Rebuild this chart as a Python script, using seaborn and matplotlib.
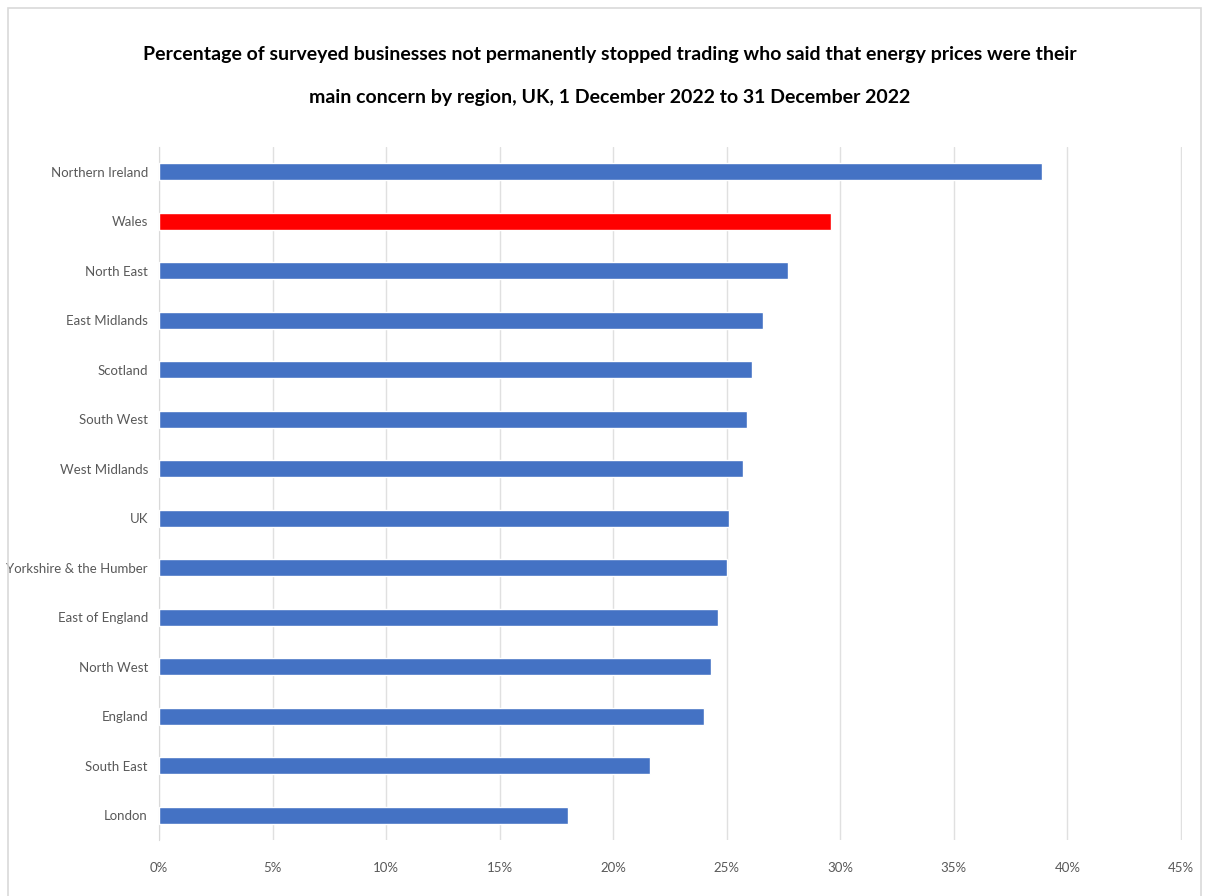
# bar chart of energy price concern by region
import seaborn as sns
import matplotlib.pyplot as plt
import pandas as pd
from matplotlib.patches import Rectangle
from matplotlib.ticker import PercentFormatter

regions = ['Northern Ireland', 'Wales', 'North East', 'East Midlands', 'Scotland',
           'South West', 'West Midlands', 'UK', 'Yorkshire & the Humber',
           'East of England', 'North West', 'England', 'South East', 'London']
percent = [38.9, 29.6, 27.7, 26.6, 26.1, 25.9, 25.7, 25.1, 25.0, 24.6, 24.3, 24.0, 21.6, 18.0]
highlight = 'Wales'

df = pd.DataFrame({'region': regions, 'percent': percent})
colours = {r: ('#FF0000' if r == highlight else '#4472C4') for r in regions}

sns.set_style('white')
plt.rcParams['font.family'] = ['Lato', 'DejaVu Sans']

fig = plt.figure(figsize=(12.05, 8.96), dpi=100)
ax = fig.add_axes([0.132, 0.0625, 0.849, 0.7735])

sns.barplot(data=df, y='region', x='percent', hue='region', palette=colours,
            saturation=1, orient='h', width=0.35, legend=False, ax=ax, zorder=3)

ax.set_xlim(0, 45.05)
ax.set_ylim(13.5, -0.5)
ax.set_xticks(range(0, 46, 5))
ax.xaxis.set_major_formatter(PercentFormatter(decimals=0))
ax.grid(axis='x', color='#e0e0e0', linewidth=1, zorder=0)
for s in ['top', 'right', 'bottom']:
    ax.spines[s].set_visible(False)
ax.spines['left'].set_color('#d9d9d9')
ax.tick_params(axis='both', length=0, labelsize=9.5, labelcolor='#595959')
ax.tick_params(axis='x', pad=16)
ax.tick_params(axis='y', pad=8)
ax.set_xlabel('')
ax.set_ylabel('')

fig.suptitle('Percentage of surveyed businesses not permanently stopped trading who said that energy prices were their\n'
             'main concern by region, UK, 1 December 2022 to 31 December 2022',
             x=0.506, y=0.949, fontsize=14, fontweight='bold', color='black', linespacing=2.9)

# light frame round the chart
fig.patches.append(Rectangle((0.007, -0.01), 0.99, 1.001, transform=fig.transFigure,
                             fill=False, edgecolor='#d9d9d9', linewidth=1.2))

fig.savefig('out.png', dpi=100)
